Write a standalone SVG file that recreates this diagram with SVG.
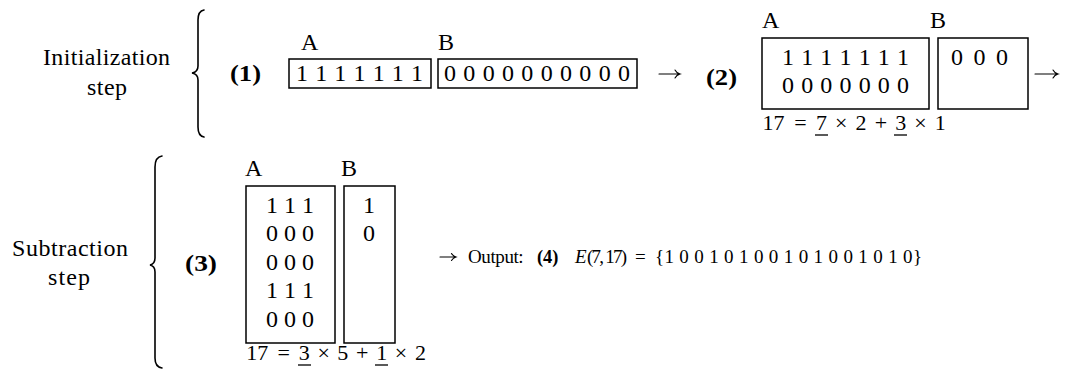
<svg xmlns="http://www.w3.org/2000/svg" width="1084" height="370" viewBox="0 0 1084 370">
<style>
.t{font-family:"Liberation Serif","DejaVu Serif",serif;font-size:24px;fill:#000}
.e{font-size:22px}
.s{font-size:19px}
.b{font-weight:bold}
.i{font-style:italic}
.box{fill:none;stroke:#000;stroke-width:1.5}
.brace{fill:none;stroke:#000;stroke-width:1.6;stroke-linecap:round}
.ul{stroke:#000;stroke-width:1.3}
.arr{fill:none;stroke:#000;stroke-width:1.1;stroke-linecap:round}
</style>
<rect width="1084" height="370" fill="#fff"/>

<g id="init-label">
<text class="t" x="43" y="65" textLength="127" lengthAdjust="spacing">Initialization</text>
<text class="t" x="87" y="95" textLength="40" lengthAdjust="spacing">step</text>
<path class="brace" d="M204,10 Q198,11 198,20 L198,66 Q198,72 192,73 Q198,74 198,80 L198,127 Q198,136 204,137"/>
</g>

<g id="step1">
<text class="t b" x="230" y="81" textLength="31" lengthAdjust="spacingAndGlyphs">(1)</text>
<text class="t" x="301" y="50">A</text>
<text class="t" x="438" y="50">B</text>
<rect class="box" x="289" y="59" width="142" height="29"/>
<rect class="box" x="438" y="59" width="199" height="29"/>
<text class="t" x="296" y="81" textLength="127" lengthAdjust="spacing">1 1 1 1 1 1 1</text>
<text class="t" x="444" y="81" textLength="186" lengthAdjust="spacing">0 0 0 0 0 0 0 0 0 0</text>
</g>

<g id="step2">
<text class="t b" x="706" y="85" textLength="31" lengthAdjust="spacingAndGlyphs">(2)</text>
<text class="t" x="762" y="28">A</text>
<text class="t" x="930" y="28">B</text>
<rect class="box" x="762" y="38" width="167" height="71"/>
<rect class="box" x="938" y="38" width="90" height="71"/>
<text class="t" x="782" y="65" textLength="127" lengthAdjust="spacing">1 1 1 1 1 1 1</text>
<text class="t" x="782" y="93" textLength="127" lengthAdjust="spacing">0 0 0 0 0 0 0</text>
<text class="t" x="951" y="65" textLength="57" lengthAdjust="spacing">0 0 0</text>
<text class="t e" y="130"><tspan x="762.5">17 </tspan><tspan x="794.2">= </tspan><tspan x="816">7 </tspan><tspan x="835.1">× </tspan><tspan x="855.5">2 </tspan><tspan x="874.7">+ </tspan><tspan x="895.2">3 </tspan><tspan x="914.3">× </tspan><tspan x="934.8">1</tspan></text>
<line class="ul" x1="815" y1="135" x2="828" y2="135"/>
<line class="ul" x1="894" y1="135" x2="907" y2="135"/>
</g>

<g id="sub-label">
<text class="t" x="12" y="256" textLength="116" lengthAdjust="spacing">Subtraction</text>
<text class="t" x="48" y="285" textLength="42" lengthAdjust="spacing">step</text>
<path class="brace" d="M162,156 Q155,157 155,167 L155,258 Q155,264 150,265 Q155,266 155,272 L155,358 Q155,367 162,368"/>
</g>

<g id="step3">
<text class="t b" x="185" y="271" textLength="32" lengthAdjust="spacingAndGlyphs">(3)</text>
<text class="t" x="245" y="176">A</text>
<text class="t" x="341" y="176">B</text>
<rect class="box" x="246" y="186" width="89" height="157"/>
<rect class="box" x="344" y="186" width="51" height="157"/>
<text class="t" x="266" y="213" textLength="48" lengthAdjust="spacing">1 1 1</text>
<text class="t" x="266" y="241" textLength="48" lengthAdjust="spacing">0 0 0</text>
<text class="t" x="266" y="270" textLength="48" lengthAdjust="spacing">0 0 0</text>
<text class="t" x="266" y="298" textLength="48" lengthAdjust="spacing">1 1 1</text>
<text class="t" x="266" y="327" textLength="48" lengthAdjust="spacing">0 0 0</text>
<text class="t" x="363" y="213">1</text>
<text class="t" x="363" y="241">0</text>
<text class="t e" y="360"><tspan x="246.2">17 </tspan><tspan x="277.4">= </tspan><tspan x="298.7">3 </tspan><tspan x="317.4">× </tspan><tspan x="337.3">5 </tspan><tspan x="356.1">+ </tspan><tspan x="376.2">1 </tspan><tspan x="394.8">× </tspan><tspan x="414.9">2</tspan></text>
<line class="ul" x1="298" y1="365" x2="311" y2="365"/>
<line class="ul" x1="375" y1="365" x2="388" y2="365"/>
</g>

<g id="output">
<text class="t s" y="263"><tspan x="468" textLength="60" lengthAdjust="spacing">Output: </tspan><tspan x="537" class="b" textLength="26" lengthAdjust="spacingAndGlyphs">(4) </tspan><tspan x="575" class="i">E</tspan><tspan x="587" textLength="43" lengthAdjust="spacing">(7, 17) </tspan><tspan x="635">= </tspan><tspan x="655" textLength="267" lengthAdjust="spacing">{1 0 0 1 0 1 0 0 1 0 1 0 0 1 0 1 0}</tspan></text>
</g>

<g id="connectors">
<path class="arr" d="M659,74 H680 M675,70 Q676.5,73 680,74 Q676.5,75 675,78"/>
<path class="arr" d="M1035,74 H1058 M1053,70 Q1054.5,73 1058,74 Q1054.5,75 1053,78"/>
<path class="arr" d="M440,257 H456 M451.5,253.5 Q453,256 456,257 Q453,258 451.5,260.5"/>
</g>
</svg>
